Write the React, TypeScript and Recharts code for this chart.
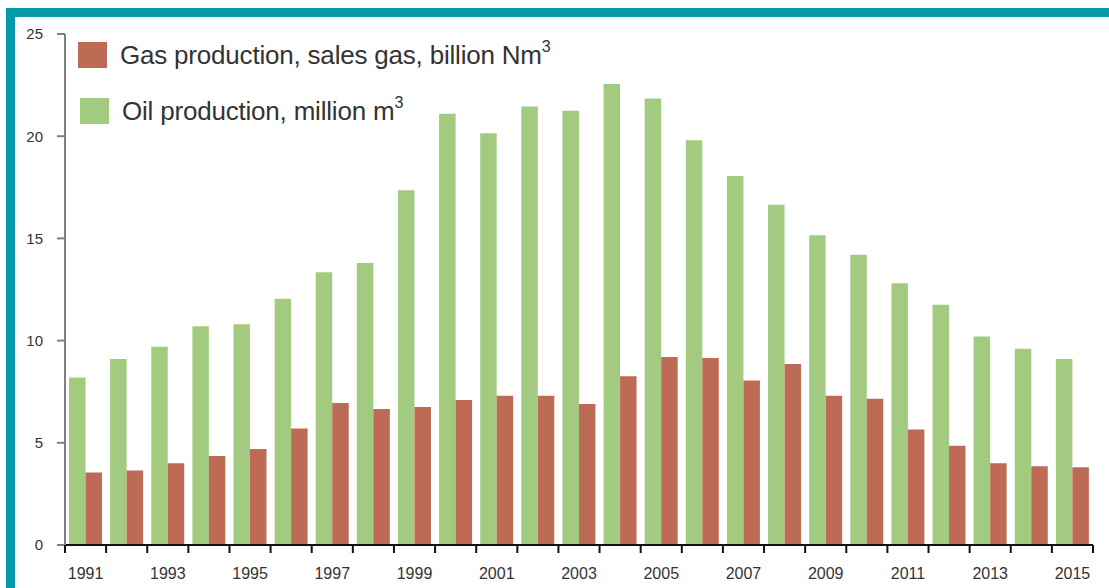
import { BarChart, Bar, XAxis, YAxis } from 'recharts'

const years = [
  '1991', '1992', '1993', '1994', '1995', '1996', '1997', '1998', '1999', '2000',
  '2001', '2002', '2003', '2004', '2005', '2006', '2007', '2008', '2009', '2010',
  '2011', '2012', '2013', '2014', '2015',
]
const oilProduction = [
  8.2, 9.1, 9.7, 10.7, 10.8, 12.05, 13.35, 13.8, 17.35, 21.1,
  20.15, 21.45, 21.25, 22.55, 21.85, 19.8, 18.05, 16.65, 15.15, 14.2,
  12.8, 11.75, 10.2, 9.6, 9.1,
]
const gasProduction = [
  3.55, 3.65, 4.0, 4.35, 4.7, 5.7, 6.95, 6.65, 6.75, 7.1,
  7.3, 7.3, 6.9, 8.25, 9.2, 9.15, 8.05, 8.85, 7.3, 7.15,
  5.65, 4.85, 4.0, 3.85, 3.8,
]
const yTicks = [0, 5, 10, 15, 20, 25]

const data = years.map((year, i) => ({ year, oil: oilProduction[i], gas: gasProduction[i] }))

const WIDTH = 1109
const HEIGHT = 588
const PLOT_LEFT = 65
const PLOT_RIGHT = 1093
const BAND = (PLOT_RIGHT - PLOT_LEFT) / years.length

const TEAL = '#0399a8'
const GREEN = '#a3cb80'
const RED = '#be6b55'
const FONT = '"Liberation Sans", Arial, sans-serif'

const legendItems = [
  { label: 'Gas production, sales gas, billion Nm', color: RED },
  { label: 'Oil production, million m', color: GREEN },
]

// legend drawn as an overlay so it doesn't eat plot space
function LegendBox() {
  return (
    <div style={{ position: 'absolute', left: 78, top: 42, fontFamily: FONT, color: '#333' }}>
      {legendItems.map((item, i) => (
        <div
          key={item.label}
          style={{ display: 'flex', alignItems: 'center', height: 26, marginBottom: 30, marginLeft: i * 2 }}
        >
          <div style={{ width: 29, height: 26, background: item.color, marginRight: 13 }} />
          <span style={{ fontSize: 26, letterSpacing: -0.2, whiteSpace: 'nowrap' }}>
            {item.label}
            <sup style={{ fontSize: 16, verticalAlign: 'top', position: 'relative', top: -2 }}>3</sup>
          </span>
        </div>
      ))}
    </div>
  )
}

function YearTick(props: any) {
  const { x, y, payload, index } = props
  const left = x - BAND / 2
  return (
    <g>
      <line x1={left} y1={y} x2={left} y2={y + 8} stroke="#111" strokeWidth={2} />
      {index === years.length - 1 && (
        <line x1={x + BAND / 2} y1={y} x2={x + BAND / 2} y2={y + 8} stroke="#111" strokeWidth={2} />
      )}
      {index % 2 === 0 && (
        <text x={x} y={y + 34} textAnchor="middle" fontSize={16} fill="#333" fontFamily={FONT}>
          {payload.value}
        </text>
      )}
    </g>
  )
}

export default function App() {
  return (
    <div style={{ position: 'absolute', left: 0, top: 0, width: WIDTH, height: HEIGHT, background: '#fff' }}>
      <div style={{ position: 'absolute', left: 6, top: 8, right: 0, height: 9, background: TEAL }} />
      <div style={{ position: 'absolute', left: 6, top: 8, width: 9, bottom: 0, background: TEAL }} />
      <div style={{ position: 'absolute', left: 0, top: 0 }}>
        <BarChart
          width={WIDTH}
          height={HEIGHT}
          data={data}
          margin={{ top: 34, right: WIDTH - PLOT_RIGHT, bottom: 8, left: 15 }}
          barGap={0}
          barSize={16.5}
        >
          <XAxis
            dataKey="year"
            interval={0}
            height={35}
            tickSize={0}
            tickMargin={0}
            tickLine={false}
            axisLine={{ stroke: '#111', strokeWidth: 2 }}
            tick={<YearTick />}
          />
          <YAxis
            domain={[0, 25]}
            ticks={yTicks}
            width={50}
            tickSize={8}
            tickMargin={14}
            axisLine={{ stroke: '#808080', strokeWidth: 2 }}
            tickLine={{ stroke: '#808080', strokeWidth: 2 }}
            tick={{ fontSize: 15, fill: '#333', fontFamily: FONT }}
          />
          <Bar dataKey="oil" fill={GREEN} isAnimationActive={false} />
          <Bar dataKey="gas" fill={RED} isAnimationActive={false} />
        </BarChart>
      </div>
      <LegendBox />
    </div>
  )
}
